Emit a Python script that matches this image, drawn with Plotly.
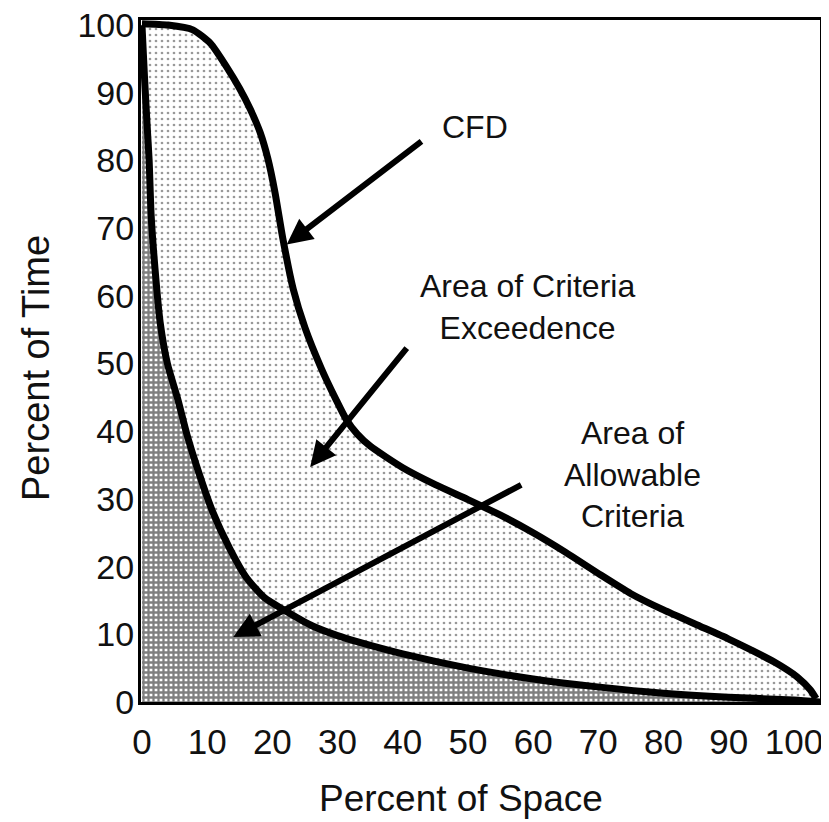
import plotly.graph_objects as go

# ---- data ----
cfd_space = [0, 4, 7.8, 10.5, 13, 15, 16.6, 18.1, 19.3, 20.4, 21.6, 23.2, 25, 27.5, 29.8, 31.3, 33, 35,
             40, 45, 50, 55, 60, 65, 70.3, 75, 80, 85.6, 90, 93.4, 97, 100.5, 102.5, 103.4]
cfd_time = [100.2, 100, 99.3, 97.3, 93.8, 90.6, 87.6, 84.2, 80.3, 75.3, 68.5, 61, 55.3, 49.3, 44.6, 41.8, 39.6, 37.8,
            34.6, 32.1, 29.9, 27.6, 25, 22.1, 18.8, 16, 13.6, 11.2, 9.3, 7.7, 5.9, 3.7, 1.8, 0.5]

allow_space = [0, 0.4, 0.8, 1.1, 1.4, 2.0, 2.8, 3.9, 5.5, 6.9, 8.4, 10.8, 13.5, 16, 18.8, 21.6, 26, 30,
               33.4, 40, 50, 60, 70.2, 80, 90, 100, 104]
allow_time = [100, 92, 85, 80, 72, 64, 56, 50, 44.7, 39.5, 34.8, 28.2, 22.6, 18.4, 15.4, 13.7, 11.3, 9.8,
              8.8, 7.1, 5.0, 3.4, 2.2, 1.3, 0.7, 0.3, 0]

tick_vals = [0, 10, 20, 30, 40, 50, 60, 70, 80, 90, 100]
tick_text = [str(v) for v in tick_vals]

x_title = "Percent of Space"
y_title = "Percent of Time"
label_cfd = "CFD"
label_exceed = "Area of Criteria<br>Exceedence"
label_allow = "Area of<br>Allowable<br>Criteria"

FONT = "Liberation Sans, Arial, Helvetica, sans-serif"
INK = "#111111"

W, H = 829, 822
OFF = 8  # page body margin in the browser
L, T = 141 - OFF, 20 - OFF
PW, PH = 679, 682
R, B = W - L - PW, H - T - PH

fig = go.Figure()

fig.add_trace(go.Scatter(
    x=allow_space, y=allow_time, mode="lines",
    line=dict(color="black", width=7, shape="spline", smoothing=0.6),
    fill="tozeroy",
    fillpattern=dict(shape="+", size=5, solidity=0.7, fgcolor="black", bgcolor="white"),
    showlegend=False, hoverinfo="skip",
))
fig.add_trace(go.Scatter(
    x=cfd_space, y=cfd_time, mode="lines",
    line=dict(color="black", width=7, shape="spline", smoothing=0.6),
    fill="tonexty",
    fillpattern=dict(shape=".", size=6, solidity=0.16, fgcolor="#333333", bgcolor="white"),
    showlegend=False, hoverinfo="skip",
))

# arrows (tip x,y ; tail ax,ay)
arrows = [
    (22.2, 67.6, 43.1, 83.0),
    (25.8, 34.7, 40.8, 52.5),
    (14.0, 9.6, 58.4, 32.2),
]
for x, y, ax, ay in arrows:
    fig.add_annotation(x=x, y=y, ax=ax, ay=ay, xref="x", yref="y", axref="x", ayref="y",
                       text="", showarrow=True, arrowhead=2, arrowsize=0.85, arrowwidth=6,
                       arrowcolor="black")

for txt, x, y in [(label_cfd, 51.1, 85.0), (label_exceed, 59.1, 58.3), (label_allow, 75.3, 33.6)]:
    fig.add_annotation(x=x, y=y, xref="x", yref="y", text=txt, showarrow=False,
                       font=dict(family=FONT, size=32, color=INK), align="center")


def paper_xy(sx, sy):
    return (sx - OFF - L) / PW, (H - B - (sy - OFF)) / PH


px_, py_ = paper_xy(461, 798)
fig.add_annotation(x=px_, y=py_, xref="paper", yref="paper",
                   text=x_title, showarrow=False, font=dict(family=FONT, size=37, color=INK),
                   xanchor="center", yanchor="middle")
px_, py_ = paper_xy(36, 368)
fig.add_annotation(x=px_, y=py_, xref="paper", yref="paper",
                   text=y_title, showarrow=False, textangle=-90,
                   font=dict(family=FONT, size=38, color=INK),
                   xanchor="center", yanchor="middle")

fig.update_layout(
    width=W, height=H,
    margin=dict(l=L, r=R, t=T, b=B, autoexpand=False),
    paper_bgcolor="white", plot_bgcolor="white",
    font=dict(family=FONT, color=INK),
)

fig.update_xaxes(range=[-0.15, 104], tickvals=tick_vals, ticktext=tick_text,
                 showgrid=False, zeroline=False, showline=True, mirror=True,
                 linecolor="black", linewidth=3, ticks="", ticklabelstandoff=7,
                 automargin=False, ticklabeloverflow="allow",
                 tickfont=dict(family=FONT, size=35, color=INK))
fig.update_yaxes(range=[0, 100.75], tickvals=tick_vals, ticktext=tick_text,
                 showgrid=False, zeroline=False, showline=True, mirror=True,
                 linecolor="black", linewidth=3, ticks="", ticklabelstandoff=-3,
                 automargin=False, ticklabeloverflow="allow",
                 tickfont=dict(family=FONT, size=34, color=INK))

fig.write_html("out.html")
